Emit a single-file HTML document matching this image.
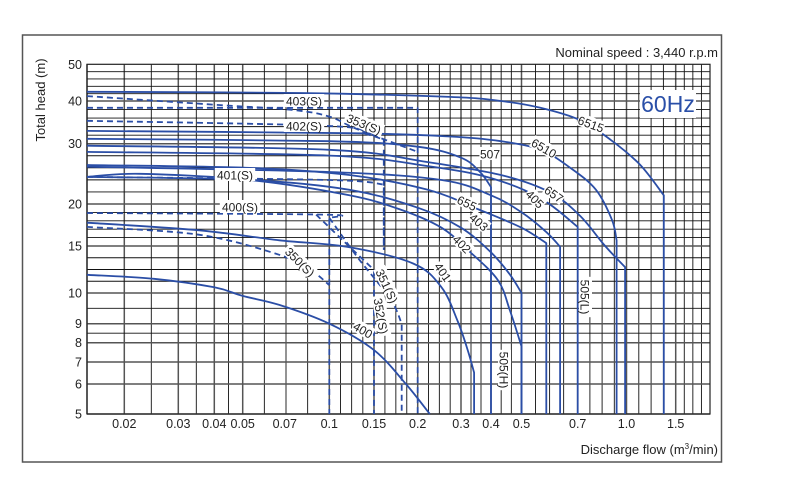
<!DOCTYPE html>
<html><head><meta charset="utf-8"><style>
html,body{margin:0;padding:0;background:#fff;}
svg{display:block;font-family:"Liberation Sans",Arial,sans-serif;}
</style></head><body>
<svg id="chart" width="800" height="487" viewBox="0 0 800 487" xmlns="http://www.w3.org/2000/svg">
<rect x="22.5" y="35" width="699" height="427" fill="#fff" stroke="#555" stroke-width="1.5"/>
<g id="grid"></g>
<g id="curves"></g>
<g id="ticks"></g>
<g id="labels" font-size="12" fill="#222"></g>
<text x="718" y="57" font-size="13" text-anchor="end" fill="#222">Nominal speed : 3,440 r.p.m</text>
<rect x="640" y="90" width="56" height="28" fill="#fff"/>
<text x="668" y="112" font-size="23" text-anchor="middle" fill="#2a4fa8">60Hz</text>
<text transform="translate(45,100) rotate(-90)" font-size="13" text-anchor="middle" fill="#222">Total head (m)</text>
<text x="718" y="454" font-size="13" text-anchor="end" fill="#222">Discharge flow (m<tspan font-size="8" dy="-5">3</tspan><tspan dy="5">/min)</tspan></text>
</svg>
<script>
// axis calibration (log, piecewise)
const xKnotVals=[0.015,0.02,0.03,0.04,0.05,0.1,0.15,0.2,0.3,0.4,0.5,0.7,1.0,1.5,2.0];
const xKnotPx=[87,124.3,178.3,214.3,242.7,329.3,374,417.7,461,491,521.5,577.7,626.5,675.7,710];
const yKnotVals=[5,6,7,8,9,10,15,20,30,40,50];
const yKnotPx=[414,384,362,342.7,323.7,293,246,204,143.7,101,64.3];
const xSub=[1,2,2,2,4,4,4,4,3,3,4,4,4,4];
const ySub=[1,1,1,2,2,4,5,5,5,5];
const xTickLabels=["0.02","0.03","0.04","0.05","0.07","0.1","0.15","0.2","0.3","0.4","0.5","0.7","1.0","1.5"];
const xTickVals=[0.02,0.03,0.04,0.05,0.07,0.1,0.15,0.2,0.3,0.4,0.5,0.7,1.0,1.5];
const yTickLabels=["5","6","7","8","9","10","15","20","30","40","50"];
const yTickVals=[5,6,7,8,9,10,15,20,30,40,50];

// series (flow m3/min, head m)
const c6515=[[0.015,42.3],[0.079,42],[0.27,41],[0.43,40],[0.56,38.2],[0.71,35.2],[0.89,30.8],[1.12,26],[1.36,21.2],[1.36,5]];
const c6510=[[0.015,32.7],[0.12,32.2],[0.27,31.5],[0.43,30.5],[0.56,28.8],[0.67,25.5],[0.8,22],[0.9,17.9],[0.93,15.6],[0.93,5]];
const c507=[[0.015,31],[0.1,30.5],[0.2,29.4],[0.3,27.3],[0.36,24.8],[0.4,22.4],[0.4,5]];
const c657=[[0.015,29.6],[0.1,28.8],[0.22,26.5],[0.43,24.3],[0.59,21.7],[0.71,18.5],[0.85,15.1],[0.99,12.5],[0.99,5]];
const c505L=[[0.015,28.4],[0.1,27.7],[0.22,25.8],[0.4,23.8],[0.56,20.8],[0.7,17.1],[0.7,5]];
const c655=[[0.015,26],[0.053,25.5],[0.12,24.3],[0.22,22],[0.36,19.2],[0.5,17],[0.58,15.3],[0.58,5]];
const c405=[[0.015,25.7],[0.1,24.8],[0.25,23.5],[0.4,21.2],[0.5,18.9],[0.58,16.5],[0.63,14.9],[0.63,5]];
const c403=[[0.015,24],[0.053,23.5],[0.12,22],[0.2,19.5],[0.3,17],[0.4,14.2],[0.46,11.7],[0.5,10],[0.5,5]];
const c402=[[0.015,24],[0.0225,24.5],[0.053,23.5],[0.12,21.2],[0.18,19.2],[0.25,17],[0.32,14.5],[0.42,11.2],[0.46,9.4],[0.5,7.8],[0.5,5]];
const c401=[[0.015,17.6],[0.0355,16.7],[0.067,15.6],[0.117,14.9],[0.194,12.9],[0.25,10.5],[0.29,9.1],[0.32,7.6],[0.34,6.5],[0.34,5]];
const c400=[[0.015,11.7],[0.025,11.3],[0.04,10.5],[0.05,9.9],[0.067,9.6],[0.1,9],[0.15,7.6],[0.185,6],[0.224,5]];
const d403S=[[0.015,38.2],[0.2,38.2],[0.2,5]];
const d353S=[[0.015,41.2],[0.042,38.9],[0.074,37.7],[0.1,36],[0.13,33],[0.2,28.4]];
const d402S=[[0.015,35],[0.1,33.8],[0.14,32],[0.16,30.8],[0.16,14.5]];
const d401S=[[0.015,24],[0.1,23.5],[0.16,22.8],[0.16,14.5]];
const d400S=[[0.015,18.8],[0.095,18.6],[0.1,18.2],[0.1,5]];
const d350S=[[0.015,17.1],[0.0355,16.2],[0.067,13.9],[0.086,12.2],[0.1,10.7]];
const d351S=[[0.1,18.2],[0.13,13.5],[0.167,9.8],[0.18,9],[0.18,5]];
const d352S=[[0.09,18.6],[0.113,15.6],[0.15,12.2],[0.15,5]];

const NS="http://www.w3.org/2000/svg";
function interp(v,vals,px){
  const lv=Math.log10(v);
  let i=0;
  while(i<vals.length-2 && v>vals[i+1]) i++;
  const a=Math.log10(vals[i]),b=Math.log10(vals[i+1]);
  return px[i]+(lv-a)/(b-a)*(px[i+1]-px[i]);
}
function xs(v){return interp(v,xKnotVals,xKnotPx);}
function ys(v){return interp(v,yKnotVals,yKnotPx);}
function mk(tag,attrs,parent){const e=document.createElementNS(NS,tag);for(const k in attrs)e.setAttribute(k,attrs[k]);parent.appendChild(e);return e;}

const grid=document.getElementById('grid');
const L=87,R=710,T=64.3,B=414;
for(let i=0;i<xKnotPx.length-1;i++){
  for(let j=0;j<xSub[i];j++){
    const x=xKnotPx[i]+(xKnotPx[i+1]-xKnotPx[i])*j/xSub[i];
    const ln=mk('line',{x1:x,x2:x,y1:T,y2:B,stroke:j===0?'#555':'#111','stroke-width':j===0?1.5:0.9},grid);
    
    
  }
}
for(let i=0;i<yKnotPx.length-1;i++){
  for(let j=0;j<ySub[i];j++){
    const y=yKnotPx[i]+(yKnotPx[i+1]-yKnotPx[i])*j/ySub[i];
    const ln=mk('line',{x1:L,x2:R,y1:y,y2:y,stroke:j===0?'#555':'#111','stroke-width':j===0?1.5:0.9},grid);
    
    
  }
}
const border=mk('rect',{x:L,y:T,width:R-L,height:B-T,fill:'none',stroke:'#222','stroke-width':1.2},grid);



const ticks=document.getElementById('ticks');
xTickVals.forEach((v,i)=>{
  const t=mk('text',{x:xs(v),y:428,'font-size':12.5,'text-anchor':'middle',fill:'#222'},ticks);
  t.textContent=xTickLabels[i];
  
  
});
yTickVals.forEach((v,i)=>{
  const t=mk('text',{x:82,y:ys(v)+4.5,'font-size':12.5,'text-anchor':'end',fill:'#222'},ticks);
  t.textContent=yTickLabels[i];
  
  
});

// smooth path (Catmull-Rom), vertical tails drawn straight
function pathFor(pts){
  const P=pts.map(q=>[xs(q[0]),ys(q[1])]);
  let d='M'+P[0][0].toFixed(1)+','+P[0][1].toFixed(1);
  for(let i=0;i<P.length-1;i++){
    const p1=P[i],p2=P[i+1];
    if(Math.abs(p1[0]-p2[0])<0.5){d+=' L'+p2[0].toFixed(1)+','+p2[1].toFixed(1);continue;}
    const p0=i>0?P[i-1]:p1;
    let p3=i+2<P.length?P[i+2]:p2;
    if(Math.abs(p3[0]-p2[0])<0.5)p3=p2;
    const c1=[p1[0]+(p2[0]-p0[0])/6,p1[1]+(p2[1]-p0[1])/6];
    const c2=[p2[0]-(p3[0]-p1[0])/6,p2[1]-(p3[1]-p1[1])/6];
    d+=' C'+c1[0].toFixed(1)+','+c1[1].toFixed(1)+' '+c2[0].toFixed(1)+','+c2[1].toFixed(1)+' '+p2[0].toFixed(1)+','+p2[1].toFixed(1);
  }
  return d;
}
const curves=document.getElementById('curves');
const solidSeries=[['curve-6515',c6515],['curve-6510',c6510],['curve-507',c507],['curve-657',c657],['curve-505l',c505L],['curve-655',c655],['curve-405',c405],['curve-403',c403],['curve-402',c402],['curve-401',c401],['curve-400',c400]];
const dashedSeries=[['curve-403s',d403S],['curve-353s',d353S],['curve-402s',d402S],['curve-401s',d401S],['curve-400s',d400S],['curve-350s',d350S],['curve-351s',d351S],['curve-352s',d352S]];
function draw(list,dash){
  list.forEach(([name,pts])=>{
    const p=mk('path',{d:pathFor(pts),fill:'none',stroke:'#2b4ea6','stroke-width':1.8,'stroke-linejoin':'round'},curves);
    if(dash)p.setAttribute('stroke-dasharray','6,4');
    
    
  });
}
draw(dashedSeries,true);
draw(solidSeries,false);

const labels=document.getElementById('labels');
const labelSpecs=[["403(S)",304,101,0],["402(S)",304,126,0],["353(S)",364,124,22],["401(S)",235,175,0],["400(S)",240,207,0],["350(S)",300,262,45],["351(S)",387,286,65],["352(S)",381,316,80],["400",363,330,30],["401",443,272,55],["402",462,244,45],["403",479,222,40],["655",467,203,25],["507",490,154,0],["6510",544,148,30],["6515",591,124,20],["657",554,194,35],["405",535,199,45],["505(L)",585,297,90],["505(H)",504,370,90]];
labelSpecs.forEach(([s,x,y,r])=>{
  const g=mk('g',{transform:`translate(${x},${y}) rotate(${r})`},labels);
  
  
  const w=s.length*6.4+2;
  mk('rect',{x:-w/2,y:-7,width:w,height:13,fill:'#fff'},g);
  const t=mk('text',{x:0,y:4.5,'text-anchor':'middle'},g);
  t.textContent=s;
});
</script>
</body></html>
